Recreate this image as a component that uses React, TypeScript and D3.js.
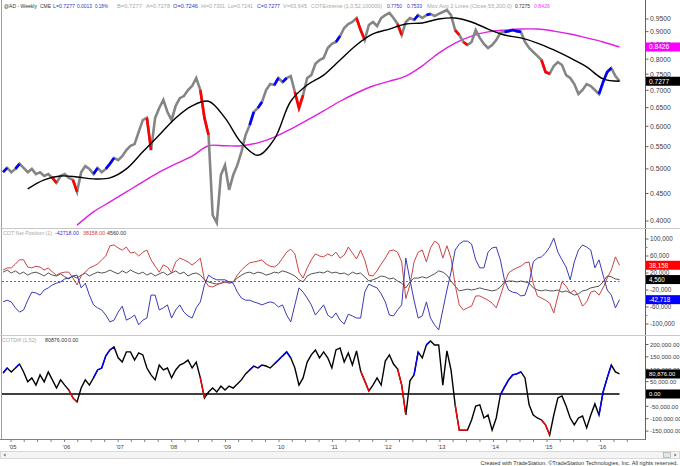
import React from "react";
import * as d3 from "d3";

// ---------- DATA ----------
const startDate = new Date(2004, 10, 8); // first 4-week sample
const STEP_DAYS = 28;

// @AD weekly close, sampled every 4 weeks
const priceClose = [
  0.493, 0.502, 0.493, 0.5, 0.511, 0.502, 0.493, 0.5, 0.489, 0.493,
  0.485, 0.489, 0.481, 0.471, 0.485, 0.489, 0.481, 0.477, 0.453, 0.493,
  0.506, 0.5, 0.489, 0.502, 0.493, 0.5, 0.511, 0.524, 0.519, 0.528,
  0.542, 0.552, 0.556, 0.586, 0.616, 0.622, 0.542, 0.622, 0.649, 0.672,
  0.638, 0.616, 0.655, 0.677, 0.683, 0.701, 0.713, 0.738, 0.701, 0.622,
  0.578, 0.41, 0.397, 0.487, 0.508, 0.457, 0.487, 0.508, 0.538, 0.578,
  0.603, 0.638, 0.649, 0.666, 0.701, 0.719, 0.716, 0.738, 0.725, 0.738,
  0.744, 0.695, 0.649, 0.686, 0.738, 0.747, 0.784, 0.797, 0.804, 0.839,
  0.854, 0.861, 0.883, 0.914, 0.93, 0.938, 0.954, 0.906, 0.868, 0.926,
  0.938, 0.922, 0.954, 0.966, 0.975, 0.954, 0.93, 0.887, 0.938, 0.954,
  0.946, 0.966, 0.954, 0.966, 0.971, 0.962, 0.971, 0.979, 0.987, 0.966,
  0.906, 0.887, 0.861, 0.85, 0.861, 0.906, 0.876, 0.854, 0.839, 0.85,
  0.868, 0.895, 0.899, 0.902, 0.906, 0.902, 0.899, 0.861, 0.839, 0.825,
  0.811, 0.797, 0.757, 0.751, 0.777, 0.79, 0.78, 0.747, 0.738, 0.719,
  0.689, 0.701, 0.719, 0.713, 0.701, 0.689, 0.725, 0.757, 0.77, 0.744,
  0.7277,
];

const MA_STEP = 4;
const ma55Start = 6;
const ma55 = [
  0.459, 0.477, 0.485, 0.483, 0.479, 0.481, 0.5, 0.538, 0.578, 0.622,
  0.655, 0.668, 0.622, 0.559, 0.53, 0.568, 0.668, 0.716, 0.747, 0.797,
  0.85, 0.891, 0.91, 0.93, 0.934, 0.95, 0.954, 0.938, 0.91, 0.887,
  0.876, 0.857, 0.832, 0.804, 0.774, 0.735, 0.7275,
];
const ma200Start = 18;
const ma200 = [
  0.393, 0.416, 0.434, 0.453, 0.473, 0.493, 0.511, 0.528, 0.552, 0.552,
  0.552, 0.559, 0.573, 0.593, 0.616, 0.641, 0.668, 0.692, 0.713, 0.728,
  0.744, 0.777, 0.821, 0.857, 0.883, 0.899, 0.906, 0.91, 0.91, 0.902,
  0.891, 0.876, 0.861, 0.8426,
];

// COT net positions, thousands of contracts
const cotRed = [
  27, 32, 32, 41, 51, 51, 34, 32, 36, 34,
  27, 32, 22, 15, 20, 22, 22, 8, -8, 13,
  22, 32, 36, 41, 51, 60, 84, 86, 79, 74,
  81, 67, 69, 60, 69, 74, 51, 36, 22, 39,
  34, 20, 46, 55, 51, 46, 39, 46, 55, 4,
  -11, -13, -8, -4, -1, -1, -1, 15, 27, 36,
  44, 46, 48, 51, 41, 36, 34, 41, 55, 69,
  76, 65, 22, 8, 32, 51, 65, 60, 58, 65,
  60, 69, 55, 62, 81, 67, 53, 74, 51, 15,
  13, 25, 41, 55, 72, 74, 69, 46, -40, -8,
  46, 69, 74, 46, 79, 95, 88, 55, 84, 55,
  -8, -55, -67, -62, -58, -34, -34, -39, -44, -51,
  -62, -34, -4, 20, 27, 32, 36, 44, 46, -4,
  -34, -39, -44, -51, -74, -34, -1, -11, -27, -20,
  -34, -58, -48, -25, -22, -32, -15, 8, 27, 58,
  38.158,
];
const cotBlue = [
  -48, -44, -48, -62, -72, -67, -44, -25, -27, -32,
  -20, -15, -8, -4, -1, 6, 8, 13, 15, -15,
  -4, -32, -55, -62, -67, -79, -95, -91, -72, -58,
  -91, -86, -79, -102, -91, -86, -32, -32, -67, -62,
  -55, -86, -67, -55, -72, -81, -86, -62, -48, -8,
  15, 8, 4, 4, 4, -1, -4, -25, -39, -44,
  -44, -48, -51, -55, -51, -48, -51, -60, -55, -79,
  -95, -55, -15, -25, -39, -55, -79, -67, -55, -79,
  -86, -74, -91, -100, -77, -81, -86, -86, -25, -6,
  -11, -15, -29, -48, -79, -81, -67, -55, 55, 4,
  -44, -86, -81, -48, -86, -102, -114, -67, -20, 22,
  74, 88, 95, 95, 88, 51, 32, 32, 69, 79,
  81, 51, 4, -20, -25, -27, -34, -32, -4, 46,
  55, 58, 67, 81, 102, 69, 51, 34, 4, 46,
  74, 86, 81, 74, 32, 51, 15, -20, -32, -62,
  -42.718,
];
const cotBlack = [
  22, 27, 20, 25, 18, 22, 15, 20, 22, 18,
  13, 20, 15, 13, 18, 11, 6, 13, 8, 15,
  20, 13, 18, 22, 20, 22, 27, 22, 18, 25,
  20, 27, 22, 18, 22, 15, 20, 13, 18, 22,
  15, 20, 25, 18, 22, 13, 18, 20, 15, 4,
  -1, -4, -6, -4, -1, -4, -1, 8, 15, 20,
  22, 18, 22, 20, 15, 18, 22, 20, 25, 22,
  18, 13, 4, -1, 13, 18, 20, 22, 20, 25,
  20, 22, 18, 20, 15, 22, 18, 20, 11, 1,
  4, 8, 13, 11, 6, 8, 1, -4, -15, -1,
  8, 8, 11, 8, 13, 18, 25, 22, 15, 1,
  -11, -22, -20, -18, -20, -18, -15, -18, -20, -22,
  -20, -13, -1, 1, 1, -1, 1, -1, -4, -15,
  -20, -22, -20, -22, -22, -20, -25, -22, -27, -32,
  -29, -22, -20, -15, -13, -11, -1, 13, 11, 6,
  4.56,
];

// COTDiff (1,52), thousands
const cotDiff = [
  85, 105, 89, 105, 121, 89, 49, 65, 36, 77,
  49, 89, 57, 24, 57, 36, 16, -16, -32, 24,
  57, 36, 65, 97, 105, 154, 178, 190, 146, 129,
  170, 170, 137, 166, 158, 105, 77, 57, 117, 97,
  105, 65, 97, 117, 125, 137, 105, 129, 65, -16,
  8, 24, 8, 32, 16, 32, 24, 40, 57, 81,
  97, 113, 105, 117, 113, 105, 121, 137, 154, 170,
  146, 105, 36, 65, 129, 158, 178, 146, 170, 146,
  105, 178, 186, 129, 166, 117, 174, 93, 53, 12,
  36, 65, 36, 133, 158, 121, 101, 36, -85, 53,
  77, 170, 146, 198, 214, 198, 198, 36, 174, 97,
  -44, -146, -146, -146, -105, -49, -44, -97, -85, -146,
  -97, -4, 28, 57, 77, 81, 89, 65, -44, -85,
  -97, -105, -125, -166, -85, -16, -8, -49, -97, -125,
  -97, -89, -137, -85, -40, -85, 8, 65, 117, 89,
  80.876,
];

// index runs where the indicator flags an extreme
const priceBlueRuns = [[1, 1], [4, 4], [23, 23], [26, 27], [61, 61], [63, 63], [67, 67], [69, 69], [82, 82], [101, 101], [104, 104], [123, 126], [146, 148]];
const priceRedRuns = [[13, 13], [18, 18], [36, 36], [49, 50], [72, 73], [87, 88], [97, 97], [111, 111], [113, 113], [132, 133]];
const diffBlueRuns = [[1, 1], [4, 4], [23, 27], [61, 61], [63, 63], [67, 70], [101, 101], [104, 104], [122, 126], [146, 148]];
const diffRedRuns = [[17, 18], [49, 49], [88, 89], [97, 98], [111, 113], [132, 133]];

const priceTicks = [0.95, 0.9, 0.85, 0.8, 0.75, 0.7, 0.65, 0.6, 0.55, 0.5, 0.45, 0.4];
const cotTicks = [100, 60, 20, -20, -60, -100];
const cotMinorTicks = [80, 40, 0, -40, -80];
const diffTicks = [200, 150, 100, 50, -50, -100, -150];
const yearList = [2005, 2006, 2007, 2008, 2009, 2010, 2011, 2012, 2013, 2014, 2015, 2016];
const yearLabels = ["'05", "'06", "'07", "'08", "'09", "'10", "'11", "'12", "'13", "'14", "'15", "'16"];

const headerParts = [
  { text: "@AD - Weekly", c: "#333" },
  { text: "CME", c: "#333" },
  { text: "L=0.7277", c: "#3535c8" },
  { text: "0.0013", c: "#3535c8" },
  { text: "0.18%", c: "#3535c8" },
  { text: "B=0.7277", c: "#a8a8a8" },
  { text: "A=0.7278", c: "#a8a8a8" },
  { text: "O=0.7246", c: "#3535c8" },
  { text: "Hi=0.7301", c: "#a8a8a8" },
  { text: "Lo=0.7241", c: "#a8a8a8" },
  { text: "C=0.7277", c: "#3535c8" },
  { text: "V=63,645", c: "#a8a8a8" },
  { text: "COTExtreme (1,0,52,100000)", c: "#a8a8a8" },
  { text: "0.7750", c: "#3535c8" },
  { text: "0.7533", c: "#3535c8" },
  { text: "Mov Avg 2 Lines (Close,55,200,0)", c: "#a8a8a8" },
  { text: "0.7275", c: "#333" },
  { text: "0.8426", c: "#ff33ff" },
];
// layout of the header pieces (start x, width)
const headerX = [4, 40, 53, 77, 95, 117, 146, 173, 201, 228, 257, 283, 311, 387, 407, 427, 515, 534];
const headerW = [33, 11, 22, 15, 13, 25, 24, 25, 24, 25, 23, 24, 71, 15, 15, 85, 15, 16];

// ---------- CHART ----------
const FONT = "'Liberation Sans', Arial, sans-serif";
const AX = 645.5;

function dateAt(i: number) {
  return d3.timeDay.offset(startDate, i * STEP_DAYS);
}

export default function App() {
  const x = d3
    .scaleTime()
    .domain([new Date(2005, 0, 1), new Date(2016, 0, 1)])
    .range([11, 600.6]);
  const py = d3.scaleLog().domain([0.4, 0.95]).range([221, 19]);
  const cy = d3.scaleLinear().domain([-100, 100]).range([324, 239]);
  const dy = d3.scaleLinear().domain([-150, 200]).range([431.1, 344.5]);

  const mk = (vals: number[], y: (v: number) => number, start = 0, step = 1, curve: any = d3.curveLinear) =>
    d3
      .line<number>()
      .x((_, k) => x(dateAt(start + k * step)))
      .y((v) => y(v))
      .curve(curve)(vals) || "";

  const runPath = (vals: number[], y: (v: number) => number, a: number, b: number) => {
    const s = Math.max(0, a - 1);
    const e = Math.min(vals.length - 1, b);
    const pts: number[] = [];
    for (let i = s; i <= e; i++) pts.push(i);
    return (
      d3
        .line<number>()
        .x((i) => x(dateAt(i)))
        .y((i) => y(vals[i]))(pts) || ""
    );
  };

  const lastX = x(dateAt(priceClose.length - 1));
  const fmtK = (v: number) => d3.format(",")(v * 1000).replace("\u2212", "-");
  const fmtK2 = (v: number) => d3.format(",.2f")(v * 1000).replace("\u2212", "-");

  const quarterTicks = d3.timeMonth.every(3)!.range(new Date(2004, 9, 1), new Date(2016, 9, 1));

  const box = (y: number, fill: string, text: string, fs = 6.6) => (
    <g>
      <rect x={646} y={y - 4.5} width={34} height={9} fill={fill} />
      <text x={649} y={y + 2.4} fill="#fff" fontSize={fs}>
        {text}
      </text>
    </g>
  );

  return (
    <svg width={680} height={466} style={{ display: "block", position: "absolute", left: 0, top: 0 }} fontFamily={FONT}>
      <rect width={680} height={466} fill="#fff" />
      <defs>
        <clipPath id="c1"><rect x={2} y={8} width={643} height={220} /></clipPath>
        <clipPath id="c2"><rect x={2} y={229} width={643} height={106} /></clipPath>
        <clipPath id="c3"><rect x={2} y={336} width={643} height={103} /></clipPath>
      </defs>

      {/* frame */}
      <line x1={1.5} y1={0} x2={1.5} y2={440} stroke="#a0a0a0" />
      <line x1={AX} y1={0} x2={AX} y2={440} stroke="#606060" />
      <line x1={0} y1={228.5} x2={680} y2={228.5} stroke="#c8c8c8" />
      <line x1={0} y1={335.5} x2={680} y2={335.5} stroke="#c8c8c8" />
      <line x1={0} y1={439.5} x2={AX} y2={439.5} stroke="#808080" />

      {/* header */}
      {headerParts.map((p, i) => (
        <text key={i} x={headerX[i]} y={7.5} fontSize={5.4} fill={p.c} textLength={headerW[i]} lengthAdjust="spacingAndGlyphs">
          {p.text}
        </text>
      ))}

      {/* ---- Panel 1: price ---- */}
      <g clipPath="url(#c1)">
        <path d={mk(ma200, py, ma200Start, MA_STEP, d3.curveCatmullRom)} fill="none" stroke="#e020e0" strokeWidth={1.4} />
        <path d={mk(priceClose, py)} fill="none" stroke="#858585" strokeWidth={2.6} />
        {priceBlueRuns.map(([a, b], i) => (
          <path key={"pb" + i} d={runPath(priceClose, py, a, b)} fill="none" stroke="#0000ff" strokeWidth={2.6} />
        ))}
        {priceRedRuns.map(([a, b], i) => (
          <path key={"pr" + i} d={runPath(priceClose, py, a, b)} fill="none" stroke="#ff0000" strokeWidth={2.6} />
        ))}
        <path d={mk(ma55, py, ma55Start, MA_STEP, d3.curveCatmullRom)} fill="none" stroke="#000" strokeWidth={1.4} />
      </g>
      {priceTicks.map((t) => (
        <g key={"pt" + t}>
          <line x1={AX} x2={AX + 3} y1={py(t)} y2={py(t)} stroke="#606060" />
          <text x={650} y={py(t) + 2.4} fontSize={6.8} fill="#404040">
            {t.toFixed(4)}
          </text>
        </g>
      ))}
      {box(py(0.8426), "#ff00ff", "0.8426")}
      {box(py(0.7277), "#000000", "0.7277")}

      {/* ---- Panel 2: COT net position ---- */}
      <text x={3} y={235} fontSize={5.3} fill="#a8a8a8">COT Net Position (1)</text>
      <text x={55} y={235} fontSize={5.3} fill="#3535c8">-42718.00</text>
      <text x={83} y={235} fontSize={5.3} fill="#d04040">38158.00</text>
      <text x={107} y={235} fontSize={5.3} fill="#333">4560.00</text>
      <g clipPath="url(#c2)">
        <line x1={2} x2={lastX} y1={cy(0)} y2={cy(0)} stroke="#2e9a2e" strokeDasharray="2,2" />
        <path d={mk(cotBlack, cy)} fill="none" stroke="#404040" strokeWidth={0.9} />
        <path d={mk(cotRed, cy)} fill="none" stroke="#cc4444" strokeWidth={1} />
        <path d={mk(cotBlue, cy)} fill="none" stroke="#3a3ab8" strokeWidth={1} />
      </g>
      {cotTicks.map((t) => (
        <g key={"ct" + t}>
          <line x1={AX} x2={AX + 3} y1={cy(t)} y2={cy(t)} stroke="#606060" />
          <text x={650} y={cy(t) + 2.3} fontSize={6.3} fill="#404040">
            {fmtK(t)}
          </text>
        </g>
      ))}
      {cotMinorTicks.map((t) => (
        <line key={"cm" + t} x1={AX} x2={AX + 2} y1={cy(t)} y2={cy(t)} stroke="#808080" />
      ))}
      <line x1={646} x2={680} y1={cy(0) + 1} y2={cy(0) + 1} stroke="#2e9a2e" />
      {box(cy(38.158), "#ff0000", "38,158", 6.3)}
      {box(cy(4.56), "#000000", "4,560", 6.3)}
      {box(cy(-42.718), "#0000ff", "-42,718", 6.3)}

      {/* ---- Panel 3: COTDiff ---- */}
      <text x={2} y={342} fontSize={5.3} fill="#a8a8a8">COTDiff (1,52)</text>
      <text x={45} y={342} fontSize={5.3} fill="#333">80876.00</text>
      <text x={68} y={342} fontSize={5.3} fill="#333">0.00</text>
      <g clipPath="url(#c3)">
        <line x1={2} x2={lastX} y1={dy(0)} y2={dy(0)} stroke="#000" strokeWidth={1.3} />
        <path d={mk(cotDiff, dy)} fill="none" stroke="#000" strokeWidth={1.4} />
        {diffBlueRuns.map(([a, b], i) => (
          <path key={"db" + i} d={runPath(cotDiff, dy, a, b)} fill="none" stroke="#0000ff" strokeWidth={1.4} />
        ))}
        {diffRedRuns.map(([a, b], i) => (
          <path key={"dr" + i} d={runPath(cotDiff, dy, a, b)} fill="none" stroke="#ff0000" strokeWidth={1.4} />
        ))}
      </g>
      {diffTicks.map((t) => (
        <g key={"dt" + t}>
          <line x1={AX} x2={AX + 3} y1={dy(t)} y2={dy(t)} stroke="#606060" />
          <text x={650} y={dy(t) + 2.3} fontSize={5.9} fill="#404040">
            {fmtK2(t)}
          </text>
        </g>
      ))}
      {box(dy(80.876), "#000000", "80,876.00", 5.9)}
      {box(dy(0), "#000000", "0.00", 5.9)}

      {/* ---- time axis ---- */}
      {quarterTicks.map((d, i) => {
        const xx = x(d);
        if (xx < 2 || xx > AX) return null;
        return <line key={"q" + i} x1={xx} x2={xx} y1={439.5} y2={442} stroke="#808080" />;
      })}
      {yearList.map((yr, i) => (
        <text key={"y" + yr} x={x(new Date(yr, 0, 1)) - 2} y={449} fontSize={5.8} fill="#404040">
          {yearLabels[i]}
        </text>
      ))}

      {/* scrollbar */}
      <rect x={0.5} y={451.5} width={679} height={7} fill="#f4f4f4" stroke="#d8d8d8" />
      <path d="M5.5,453.5 L3.5,455 L5.5,456.5 Z" fill="#666" />
      <rect x={663.5} y={452.5} width={7} height={5} fill="#e4e4e4" stroke="#a0a0a0" strokeWidth={0.6} />
      <path d="M674.5,453.5 L676.5,455 L674.5,456.5 Z" fill="#666" />
      <text x={678} y={465} fontSize={5.6} fill="#333" textAnchor="end">
        Created with TradeStation. ©TradeStation Technologies, Inc. All rights reserved.
      </text>
    </svg>
  );
}
